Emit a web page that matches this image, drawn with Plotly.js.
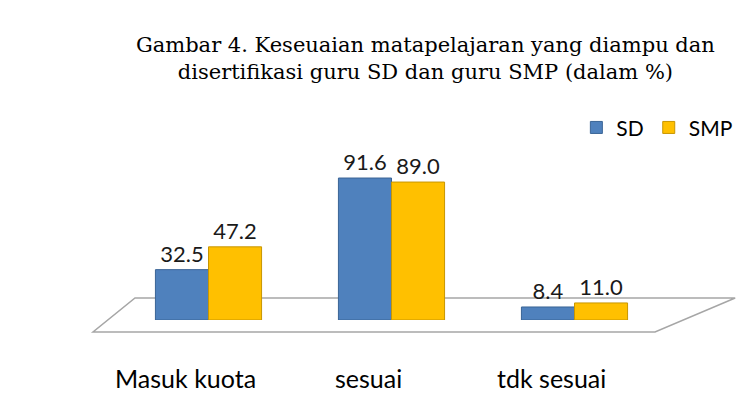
<!DOCTYPE html>
<html><head><meta charset="utf-8">
<script src="https://cdn.plot.ly/plotly-3.0.1.min.js"></script>
<style>html,body{margin:0;padding:0;background:#fff;}#chart{width:736px;height:409px;}</style>
</head><body><div id="chart"></div>
<script>
var categories = ["Masuk kuota", "sesuai", "tdk sesuai"];
var sdValues = [32.5, 91.6, 8.4];
var smpValues = [47.2, 89.0, 11.0];
var seriesNames = ["SD", "SMP"];

function fmt(v){ return v.toFixed(1); }

var labelFont = {family:'Lato, "Open Sans", sans-serif', size:22, color:'#1a1a1a'};
var catFont = {family:'Lato, "Open Sans", sans-serif', size:25, color:'#000'};

var traces = [
  {type:'bar', name:seriesNames[0], x:categories, y:sdValues,
   text:sdValues.map(fmt), textposition:'outside', cliponaxis:false,
   textfont:labelFont,
   marker:{color:'#4F81BD', line:{color:'#3A6496', width:1}}},
  {type:'bar', name:seriesNames[1], x:categories, y:smpValues,
   text:smpValues.map(fmt), textposition:'outside', cliponaxis:false,
   textfont:labelFont,
   marker:{color:'#FFC000', line:{color:'#C89600', width:1}}}
];

// category labels (offset left, as in the perspective view of the original)
var catAnnotations = categories.map(function(c){
  return {xref:'x', yref:'paper', x:c, y:-0.374, yanchor:'middle', xanchor:'center',
    xshift:-23, showarrow:false, text:c, font:catFont};
});

var layout = {
  width:736, height:409,
  margin:{l:117, r:70, t:165, b:89, pad:0, autoexpand:false},
  paper_bgcolor:'#ffffff', plot_bgcolor:'rgba(0,0,0,0)',
  title:{text:'Gambar 4. Keseuaian matapelajaran yang diampu dan<br>disertifikasi guru SD dan guru SMP (dalam %)',
    font:{family:'"DejaVu Serif", "Liberation Serif", serif', size:21, color:'#000'},
    x:0.578, xanchor:'center', y:0.874, yanchor:'top'},
  barmode:'group', bargap:0.42, bargroupgap:0,
  showlegend:true,
  legend:{orientation:'h', x:1.13, xanchor:'right', y:1.24, yanchor:'middle',
    font:{family:'Lato, "Open Sans", sans-serif', size:21, color:'#000'},
    itemwidth:30, traceorder:'normal', bgcolor:'rgba(0,0,0,0)'},
  xaxis:{type:'category', range:[-0.5,2.5], showgrid:false, zeroline:false, showline:false,
    ticks:'', showticklabels:false},
  yaxis:{range:[0,100], visible:false, showgrid:false, zeroline:false},
  annotations:catAnnotations,
  shapes:[{type:'path', xref:'paper', yref:'paper', layer:'below',
    path:'M 0.0328 0.142 L 1.126 0.142 L 0.98 -0.077 L -0.0437 -0.077 Z',
    line:{color:'#A6A6A6', width:1.5}, fillcolor:'#ffffff'}]
};

Plotly.newPlot('chart', traces, layout, {displayModeBar:false, staticPlot:true});
</script></body></html>
